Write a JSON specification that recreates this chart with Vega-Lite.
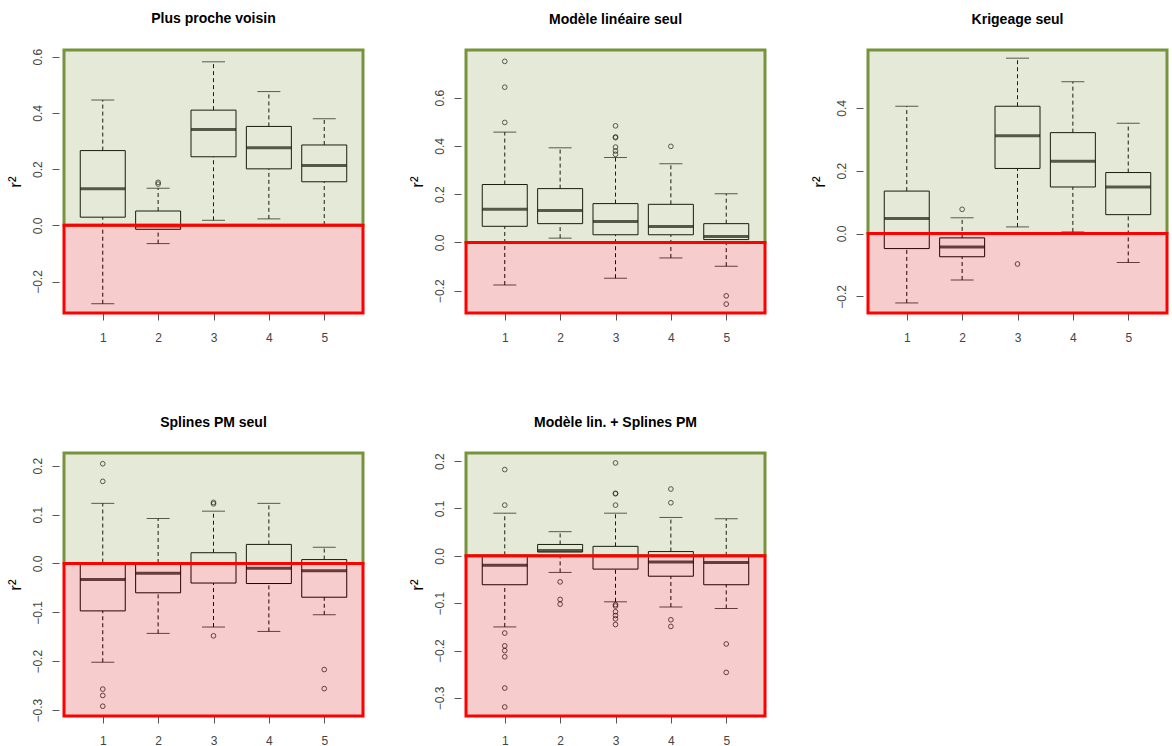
{
  "$schema": "https://vega.github.io/schema/vega-lite/v6.json",
  "background": "white",
  "padding": {"left": 6, "top": 12, "right": 0, "bottom": 0},
  "datasets": {
    "boxes": [
      {"panel": 1, "group": 1, "lo": -0.279, "q1": 0.029, "med": 0.130, "q3": 0.266, "hi": 0.446},
      {"panel": 1, "group": 2, "lo": -0.065, "q1": -0.014, "med": -0.002, "q3": 0.051, "hi": 0.132},
      {"panel": 1, "group": 3, "lo": 0.018, "q1": 0.244, "med": 0.341, "q3": 0.410, "hi": 0.582},
      {"panel": 1, "group": 4, "lo": 0.023, "q1": 0.201, "med": 0.276, "q3": 0.352, "hi": 0.476},
      {"panel": 1, "group": 5, "lo": 0.001, "q1": 0.155, "med": 0.213, "q3": 0.286, "hi": 0.379},
      {"panel": 2, "group": 1, "lo": -0.176, "q1": 0.067, "med": 0.138, "q3": 0.240, "hi": 0.457},
      {"panel": 2, "group": 2, "lo": 0.018, "q1": 0.078, "med": 0.132, "q3": 0.223, "hi": 0.392},
      {"panel": 2, "group": 3, "lo": -0.148, "q1": 0.032, "med": 0.087, "q3": 0.161, "hi": 0.352},
      {"panel": 2, "group": 4, "lo": -0.064, "q1": 0.032, "med": 0.066, "q3": 0.158, "hi": 0.326},
      {"panel": 2, "group": 5, "lo": -0.098, "q1": 0.012, "med": 0.025, "q3": 0.078, "hi": 0.202},
      {"panel": 3, "group": 1, "lo": -0.221, "q1": -0.048, "med": 0.048, "q3": 0.135, "hi": 0.405},
      {"panel": 3, "group": 2, "lo": -0.148, "q1": -0.074, "med": -0.043, "q3": -0.014, "hi": 0.050},
      {"panel": 3, "group": 3, "lo": 0.021, "q1": 0.207, "med": 0.311, "q3": 0.405, "hi": 0.558},
      {"panel": 3, "group": 4, "lo": 0.005, "q1": 0.148, "med": 0.230, "q3": 0.321, "hi": 0.483},
      {"panel": 3, "group": 5, "lo": -0.092, "q1": 0.060, "med": 0.148, "q3": 0.194, "hi": 0.351},
      {"panel": 4, "group": 1, "lo": -0.202, "q1": -0.097, "med": -0.033, "q3": 0.002, "hi": 0.123},
      {"panel": 4, "group": 2, "lo": -0.143, "q1": -0.060, "med": -0.020, "q3": 0.001, "hi": 0.092},
      {"panel": 4, "group": 3, "lo": -0.130, "q1": -0.040, "med": 0.000, "q3": 0.022, "hi": 0.107},
      {"panel": 4, "group": 4, "lo": -0.139, "q1": -0.041, "med": -0.010, "q3": 0.039, "hi": 0.123},
      {"panel": 4, "group": 5, "lo": -0.105, "q1": -0.069, "med": -0.015, "q3": 0.008, "hi": 0.033},
      {"panel": 5, "group": 1, "lo": -0.150, "q1": -0.061, "med": -0.020, "q3": 0.001, "hi": 0.090},
      {"panel": 5, "group": 2, "lo": -0.035, "q1": 0.008, "med": 0.011, "q3": 0.024, "hi": 0.051},
      {"panel": 5, "group": 3, "lo": -0.097, "q1": -0.028, "med": 0.000, "q3": 0.020, "hi": 0.090},
      {"panel": 5, "group": 4, "lo": -0.108, "q1": -0.043, "med": -0.013, "q3": 0.009, "hi": 0.081},
      {"panel": 5, "group": 5, "lo": -0.111, "q1": -0.061, "med": -0.014, "q3": 0.000, "hi": 0.078}
    ],
    "outliers": [
      {"panel": 1, "group": 2, "v": 0.153},
      {"panel": 1, "group": 2, "v": 0.147},
      {"panel": 2, "group": 1, "v": 0.750},
      {"panel": 2, "group": 1, "v": 0.643},
      {"panel": 2, "group": 1, "v": 0.497},
      {"panel": 2, "group": 3, "v": 0.483},
      {"panel": 2, "group": 3, "v": 0.437},
      {"panel": 2, "group": 3, "v": 0.434},
      {"panel": 2, "group": 3, "v": 0.395},
      {"panel": 2, "group": 3, "v": 0.379},
      {"panel": 2, "group": 3, "v": 0.365},
      {"panel": 2, "group": 4, "v": 0.398},
      {"panel": 2, "group": 5, "v": -0.221},
      {"panel": 2, "group": 5, "v": -0.255},
      {"panel": 3, "group": 2, "v": 0.077},
      {"panel": 3, "group": 3, "v": -0.097},
      {"panel": 4, "group": 1, "v": 0.204},
      {"panel": 4, "group": 1, "v": 0.168},
      {"panel": 4, "group": 1, "v": -0.257},
      {"panel": 4, "group": 1, "v": -0.270},
      {"panel": 4, "group": 1, "v": -0.292},
      {"panel": 4, "group": 3, "v": 0.125},
      {"panel": 4, "group": 3, "v": 0.122},
      {"panel": 4, "group": 3, "v": -0.148},
      {"panel": 4, "group": 5, "v": -0.217},
      {"panel": 4, "group": 5, "v": -0.256},
      {"panel": 5, "group": 1, "v": 0.182},
      {"panel": 5, "group": 1, "v": 0.107},
      {"panel": 5, "group": 1, "v": -0.163},
      {"panel": 5, "group": 1, "v": -0.190},
      {"panel": 5, "group": 1, "v": -0.200},
      {"panel": 5, "group": 1, "v": -0.213},
      {"panel": 5, "group": 1, "v": -0.279},
      {"panel": 5, "group": 1, "v": -0.319},
      {"panel": 5, "group": 2, "v": -0.055},
      {"panel": 5, "group": 2, "v": -0.092},
      {"panel": 5, "group": 2, "v": -0.102},
      {"panel": 5, "group": 3, "v": 0.196},
      {"panel": 5, "group": 3, "v": 0.132},
      {"panel": 5, "group": 3, "v": 0.131},
      {"panel": 5, "group": 3, "v": 0.107},
      {"panel": 5, "group": 3, "v": -0.103},
      {"panel": 5, "group": 3, "v": -0.106},
      {"panel": 5, "group": 3, "v": -0.118},
      {"panel": 5, "group": 3, "v": -0.126},
      {"panel": 5, "group": 3, "v": -0.133},
      {"panel": 5, "group": 3, "v": -0.145},
      {"panel": 5, "group": 4, "v": 0.141},
      {"panel": 5, "group": 4, "v": 0.112},
      {"panel": 5, "group": 4, "v": -0.135},
      {"panel": 5, "group": 4, "v": -0.149},
      {"panel": 5, "group": 5, "v": -0.186},
      {"panel": 5, "group": 5, "v": -0.246}
    ],
    "zones": [
      {"panel": 1, "zone": "pos", "lo": 0, "hi": 0.624},
      {"panel": 1, "zone": "neg", "lo": -0.312, "hi": 0},
      {"panel": 2, "zone": "pos", "lo": 0, "hi": 0.797},
      {"panel": 2, "zone": "neg", "lo": -0.292, "hi": 0},
      {"panel": 3, "zone": "pos", "lo": 0, "hi": 0.584},
      {"panel": 3, "zone": "neg", "lo": -0.253, "hi": 0},
      {"panel": 4, "zone": "pos", "lo": 0, "hi": 0.226},
      {"panel": 4, "zone": "neg", "lo": -0.312, "hi": 0},
      {"panel": 5, "zone": "pos", "lo": 0, "hi": 0.217},
      {"panel": 5, "zone": "neg", "lo": -0.338, "hi": 0}
    ]
  },
  "columns": 3,
  "spacing": {"row": 140, "column": 93},
  "bounds": "flush",
  "concat": [
    {
      "width": 309, "height": 263,
      "title": {"text": "Plus proche voisin"},
      "data": {"name": "boxes"},
      "transform": [{"filter": "datum.panel == 1"}],
      "layer": [
        {"mark": {"type": "rule", "strokeDash": [4, 3], "color": "#000", "strokeWidth": 1},
         "encoding": {
           "x": {"field": "group", "type": "quantitative", "title": null, "scale": {"domain": [0.3, 5.7], "nice": false, "zero": false}, "axis": {"values": [1, 2, 3, 4, 5], "format": "d"}},
           "y": {"field": "lo", "type": "quantitative", "title": "r²", "scale": {"domain": [-0.312, 0.624], "nice": false, "zero": false}, "axis": {"values": [-0.2, 0, 0.2, 0.4, 0.6], "format": ".1f"}},
           "y2": {"field": "q1"}}},
        {"mark": {"type": "rule", "strokeDash": [4, 3], "color": "#000", "strokeWidth": 1},
         "encoding": {
           "x": {"field": "group", "type": "quantitative", "title": null},
           "y": {"field": "q3", "type": "quantitative", "title": "r²"},
           "y2": {"field": "hi"}}},
        {"mark": {"type": "tick", "orient": "horizontal", "size": 23, "thickness": 1, "color": "#000"},
         "encoding": {"x": {"field": "group", "type": "quantitative", "title": null}, "y": {"field": "lo", "type": "quantitative", "title": "r²"}}},
        {"mark": {"type": "tick", "orient": "horizontal", "size": 23, "thickness": 1, "color": "#000"},
         "encoding": {"x": {"field": "group", "type": "quantitative", "title": null}, "y": {"field": "hi", "type": "quantitative", "title": "r²"}}},
        {"mark": {"type": "bar", "size": 45, "orient": "vertical", "fill": null, "fillOpacity": 0, "stroke": "#000", "strokeWidth": 1},
         "encoding": {"x": {"field": "group", "type": "quantitative", "title": null}, "y": {"field": "q1", "type": "quantitative", "title": "r²"}, "y2": {"field": "q3"}}},
        {"mark": {"type": "tick", "orient": "horizontal", "size": 45, "thickness": 3, "color": "#000"},
         "encoding": {"x": {"field": "group", "type": "quantitative", "title": null}, "y": {"field": "med", "type": "quantitative", "title": "r²"}}},
        {"data": {"name": "outliers"}, "transform": [{"filter": "datum.panel == 1"}],
         "mark": {"type": "point", "shape": "circle", "filled": false, "size": 22, "stroke": "#000", "strokeWidth": 1},
         "encoding": {"x": {"field": "group", "type": "quantitative", "title": null}, "y": {"field": "v", "type": "quantitative", "title": "r²"}}},
        {"data": {"name": "zones"}, "transform": [{"filter": "datum.panel == 1 && datum.zone == 'pos'"}],
         "mark": {"type": "rect", "fill": "#77933C", "fillOpacity": 0.2, "stroke": "#77933C", "strokeWidth": 3},
         "encoding": {"x": {"datum": 0.3, "type": "quantitative", "title": null}, "x2": {"datum": 5.7}, "y": {"field": "lo", "type": "quantitative", "title": "r²"}, "y2": {"field": "hi"}}},
        {"data": {"name": "zones"}, "transform": [{"filter": "datum.panel == 1 && datum.zone == 'neg'"}],
         "mark": {"type": "rect", "fill": "#D40000", "fillOpacity": 0.2, "stroke": "#FF0000", "strokeWidth": 3},
         "encoding": {"x": {"datum": 0.3, "type": "quantitative", "title": null}, "x2": {"datum": 5.7}, "y": {"field": "lo", "type": "quantitative", "title": "r²"}, "y2": {"field": "hi"}}}
      ]
    },
    {
      "width": 309, "height": 263,
      "title": {"text": "Modèle linéaire seul"},
      "data": {"name": "boxes"},
      "transform": [{"filter": "datum.panel == 2"}],
      "layer": [
        {"mark": {"type": "rule", "strokeDash": [4, 3], "color": "#000", "strokeWidth": 1},
         "encoding": {
           "x": {"field": "group", "type": "quantitative", "title": null, "scale": {"domain": [0.3, 5.7], "nice": false, "zero": false}, "axis": {"values": [1, 2, 3, 4, 5], "format": "d"}},
           "y": {"field": "lo", "type": "quantitative", "title": "r²", "scale": {"domain": [-0.292, 0.797], "nice": false, "zero": false}, "axis": {"values": [-0.2, 0, 0.2, 0.4, 0.6], "format": ".1f"}},
           "y2": {"field": "q1"}}},
        {"mark": {"type": "rule", "strokeDash": [4, 3], "color": "#000", "strokeWidth": 1},
         "encoding": {
           "x": {"field": "group", "type": "quantitative", "title": null},
           "y": {"field": "q3", "type": "quantitative", "title": "r²"},
           "y2": {"field": "hi"}}},
        {"mark": {"type": "tick", "orient": "horizontal", "size": 23, "thickness": 1, "color": "#000"},
         "encoding": {"x": {"field": "group", "type": "quantitative", "title": null}, "y": {"field": "lo", "type": "quantitative", "title": "r²"}}},
        {"mark": {"type": "tick", "orient": "horizontal", "size": 23, "thickness": 1, "color": "#000"},
         "encoding": {"x": {"field": "group", "type": "quantitative", "title": null}, "y": {"field": "hi", "type": "quantitative", "title": "r²"}}},
        {"mark": {"type": "bar", "size": 45, "orient": "vertical", "fill": null, "fillOpacity": 0, "stroke": "#000", "strokeWidth": 1},
         "encoding": {"x": {"field": "group", "type": "quantitative", "title": null}, "y": {"field": "q1", "type": "quantitative", "title": "r²"}, "y2": {"field": "q3"}}},
        {"mark": {"type": "tick", "orient": "horizontal", "size": 45, "thickness": 3, "color": "#000"},
         "encoding": {"x": {"field": "group", "type": "quantitative", "title": null}, "y": {"field": "med", "type": "quantitative", "title": "r²"}}},
        {"data": {"name": "outliers"}, "transform": [{"filter": "datum.panel == 2"}],
         "mark": {"type": "point", "shape": "circle", "filled": false, "size": 22, "stroke": "#000", "strokeWidth": 1},
         "encoding": {"x": {"field": "group", "type": "quantitative", "title": null}, "y": {"field": "v", "type": "quantitative", "title": "r²"}}},
        {"data": {"name": "zones"}, "transform": [{"filter": "datum.panel == 2 && datum.zone == 'pos'"}],
         "mark": {"type": "rect", "fill": "#77933C", "fillOpacity": 0.2, "stroke": "#77933C", "strokeWidth": 3},
         "encoding": {"x": {"datum": 0.3, "type": "quantitative", "title": null}, "x2": {"datum": 5.7}, "y": {"field": "lo", "type": "quantitative", "title": "r²"}, "y2": {"field": "hi"}}},
        {"data": {"name": "zones"}, "transform": [{"filter": "datum.panel == 2 && datum.zone == 'neg'"}],
         "mark": {"type": "rect", "fill": "#D40000", "fillOpacity": 0.2, "stroke": "#FF0000", "strokeWidth": 3},
         "encoding": {"x": {"datum": 0.3, "type": "quantitative", "title": null}, "x2": {"datum": 5.7}, "y": {"field": "lo", "type": "quantitative", "title": "r²"}, "y2": {"field": "hi"}}}
      ]
    },
    {
      "width": 309, "height": 263,
      "title": {"text": "Krigeage seul"},
      "data": {"name": "boxes"},
      "transform": [{"filter": "datum.panel == 3"}],
      "layer": [
        {"mark": {"type": "rule", "strokeDash": [4, 3], "color": "#000", "strokeWidth": 1},
         "encoding": {
           "x": {"field": "group", "type": "quantitative", "title": null, "scale": {"domain": [0.3, 5.7], "nice": false, "zero": false}, "axis": {"values": [1, 2, 3, 4, 5], "format": "d"}},
           "y": {"field": "lo", "type": "quantitative", "title": "r²", "scale": {"domain": [-0.253, 0.584], "nice": false, "zero": false}, "axis": {"values": [-0.2, 0, 0.2, 0.4], "format": ".1f"}},
           "y2": {"field": "q1"}}},
        {"mark": {"type": "rule", "strokeDash": [4, 3], "color": "#000", "strokeWidth": 1},
         "encoding": {
           "x": {"field": "group", "type": "quantitative", "title": null},
           "y": {"field": "q3", "type": "quantitative", "title": "r²"},
           "y2": {"field": "hi"}}},
        {"mark": {"type": "tick", "orient": "horizontal", "size": 23, "thickness": 1, "color": "#000"},
         "encoding": {"x": {"field": "group", "type": "quantitative", "title": null}, "y": {"field": "lo", "type": "quantitative", "title": "r²"}}},
        {"mark": {"type": "tick", "orient": "horizontal", "size": 23, "thickness": 1, "color": "#000"},
         "encoding": {"x": {"field": "group", "type": "quantitative", "title": null}, "y": {"field": "hi", "type": "quantitative", "title": "r²"}}},
        {"mark": {"type": "bar", "size": 45, "orient": "vertical", "fill": null, "fillOpacity": 0, "stroke": "#000", "strokeWidth": 1},
         "encoding": {"x": {"field": "group", "type": "quantitative", "title": null}, "y": {"field": "q1", "type": "quantitative", "title": "r²"}, "y2": {"field": "q3"}}},
        {"mark": {"type": "tick", "orient": "horizontal", "size": 45, "thickness": 3, "color": "#000"},
         "encoding": {"x": {"field": "group", "type": "quantitative", "title": null}, "y": {"field": "med", "type": "quantitative", "title": "r²"}}},
        {"data": {"name": "outliers"}, "transform": [{"filter": "datum.panel == 3"}],
         "mark": {"type": "point", "shape": "circle", "filled": false, "size": 22, "stroke": "#000", "strokeWidth": 1},
         "encoding": {"x": {"field": "group", "type": "quantitative", "title": null}, "y": {"field": "v", "type": "quantitative", "title": "r²"}}},
        {"data": {"name": "zones"}, "transform": [{"filter": "datum.panel == 3 && datum.zone == 'pos'"}],
         "mark": {"type": "rect", "fill": "#77933C", "fillOpacity": 0.2, "stroke": "#77933C", "strokeWidth": 3},
         "encoding": {"x": {"datum": 0.3, "type": "quantitative", "title": null}, "x2": {"datum": 5.7}, "y": {"field": "lo", "type": "quantitative", "title": "r²"}, "y2": {"field": "hi"}}},
        {"data": {"name": "zones"}, "transform": [{"filter": "datum.panel == 3 && datum.zone == 'neg'"}],
         "mark": {"type": "rect", "fill": "#D40000", "fillOpacity": 0.2, "stroke": "#FF0000", "strokeWidth": 3},
         "encoding": {"x": {"datum": 0.3, "type": "quantitative", "title": null}, "x2": {"datum": 5.7}, "y": {"field": "lo", "type": "quantitative", "title": "r²"}, "y2": {"field": "hi"}}}
      ]
    },
    {
      "width": 309, "height": 263,
      "title": {"text": "Splines PM seul"},
      "data": {"name": "boxes"},
      "transform": [{"filter": "datum.panel == 4"}],
      "layer": [
        {"mark": {"type": "rule", "strokeDash": [4, 3], "color": "#000", "strokeWidth": 1},
         "encoding": {
           "x": {"field": "group", "type": "quantitative", "title": null, "scale": {"domain": [0.3, 5.7], "nice": false, "zero": false}, "axis": {"values": [1, 2, 3, 4, 5], "format": "d"}},
           "y": {"field": "lo", "type": "quantitative", "title": "r²", "scale": {"domain": [-0.312, 0.226], "nice": false, "zero": false}, "axis": {"values": [-0.3, -0.2, -0.1, 0, 0.1, 0.2], "format": ".1f"}},
           "y2": {"field": "q1"}}},
        {"mark": {"type": "rule", "strokeDash": [4, 3], "color": "#000", "strokeWidth": 1},
         "encoding": {
           "x": {"field": "group", "type": "quantitative", "title": null},
           "y": {"field": "q3", "type": "quantitative", "title": "r²"},
           "y2": {"field": "hi"}}},
        {"mark": {"type": "tick", "orient": "horizontal", "size": 23, "thickness": 1, "color": "#000"},
         "encoding": {"x": {"field": "group", "type": "quantitative", "title": null}, "y": {"field": "lo", "type": "quantitative", "title": "r²"}}},
        {"mark": {"type": "tick", "orient": "horizontal", "size": 23, "thickness": 1, "color": "#000"},
         "encoding": {"x": {"field": "group", "type": "quantitative", "title": null}, "y": {"field": "hi", "type": "quantitative", "title": "r²"}}},
        {"mark": {"type": "bar", "size": 45, "orient": "vertical", "fill": null, "fillOpacity": 0, "stroke": "#000", "strokeWidth": 1},
         "encoding": {"x": {"field": "group", "type": "quantitative", "title": null}, "y": {"field": "q1", "type": "quantitative", "title": "r²"}, "y2": {"field": "q3"}}},
        {"mark": {"type": "tick", "orient": "horizontal", "size": 45, "thickness": 3, "color": "#000"},
         "encoding": {"x": {"field": "group", "type": "quantitative", "title": null}, "y": {"field": "med", "type": "quantitative", "title": "r²"}}},
        {"data": {"name": "outliers"}, "transform": [{"filter": "datum.panel == 4"}],
         "mark": {"type": "point", "shape": "circle", "filled": false, "size": 22, "stroke": "#000", "strokeWidth": 1},
         "encoding": {"x": {"field": "group", "type": "quantitative", "title": null}, "y": {"field": "v", "type": "quantitative", "title": "r²"}}},
        {"data": {"name": "zones"}, "transform": [{"filter": "datum.panel == 4 && datum.zone == 'pos'"}],
         "mark": {"type": "rect", "fill": "#77933C", "fillOpacity": 0.2, "stroke": "#77933C", "strokeWidth": 3},
         "encoding": {"x": {"datum": 0.3, "type": "quantitative", "title": null}, "x2": {"datum": 5.7}, "y": {"field": "lo", "type": "quantitative", "title": "r²"}, "y2": {"field": "hi"}}},
        {"data": {"name": "zones"}, "transform": [{"filter": "datum.panel == 4 && datum.zone == 'neg'"}],
         "mark": {"type": "rect", "fill": "#D40000", "fillOpacity": 0.2, "stroke": "#FF0000", "strokeWidth": 3},
         "encoding": {"x": {"datum": 0.3, "type": "quantitative", "title": null}, "x2": {"datum": 5.7}, "y": {"field": "lo", "type": "quantitative", "title": "r²"}, "y2": {"field": "hi"}}}
      ]
    },
    {
      "width": 309, "height": 263,
      "title": {"text": "Modèle lin. + Splines PM"},
      "data": {"name": "boxes"},
      "transform": [{"filter": "datum.panel == 5"}],
      "layer": [
        {"mark": {"type": "rule", "strokeDash": [4, 3], "color": "#000", "strokeWidth": 1},
         "encoding": {
           "x": {"field": "group", "type": "quantitative", "title": null, "scale": {"domain": [0.3, 5.7], "nice": false, "zero": false}, "axis": {"values": [1, 2, 3, 4, 5], "format": "d"}},
           "y": {"field": "lo", "type": "quantitative", "title": "r²", "scale": {"domain": [-0.338, 0.217], "nice": false, "zero": false}, "axis": {"values": [-0.3, -0.2, -0.1, 0, 0.1, 0.2], "format": ".1f"}},
           "y2": {"field": "q1"}}},
        {"mark": {"type": "rule", "strokeDash": [4, 3], "color": "#000", "strokeWidth": 1},
         "encoding": {
           "x": {"field": "group", "type": "quantitative", "title": null},
           "y": {"field": "q3", "type": "quantitative", "title": "r²"},
           "y2": {"field": "hi"}}},
        {"mark": {"type": "tick", "orient": "horizontal", "size": 23, "thickness": 1, "color": "#000"},
         "encoding": {"x": {"field": "group", "type": "quantitative", "title": null}, "y": {"field": "lo", "type": "quantitative", "title": "r²"}}},
        {"mark": {"type": "tick", "orient": "horizontal", "size": 23, "thickness": 1, "color": "#000"},
         "encoding": {"x": {"field": "group", "type": "quantitative", "title": null}, "y": {"field": "hi", "type": "quantitative", "title": "r²"}}},
        {"mark": {"type": "bar", "size": 45, "orient": "vertical", "fill": null, "fillOpacity": 0, "stroke": "#000", "strokeWidth": 1},
         "encoding": {"x": {"field": "group", "type": "quantitative", "title": null}, "y": {"field": "q1", "type": "quantitative", "title": "r²"}, "y2": {"field": "q3"}}},
        {"mark": {"type": "tick", "orient": "horizontal", "size": 45, "thickness": 3, "color": "#000"},
         "encoding": {"x": {"field": "group", "type": "quantitative", "title": null}, "y": {"field": "med", "type": "quantitative", "title": "r²"}}},
        {"data": {"name": "outliers"}, "transform": [{"filter": "datum.panel == 5"}],
         "mark": {"type": "point", "shape": "circle", "filled": false, "size": 22, "stroke": "#000", "strokeWidth": 1},
         "encoding": {"x": {"field": "group", "type": "quantitative", "title": null}, "y": {"field": "v", "type": "quantitative", "title": "r²"}}},
        {"data": {"name": "zones"}, "transform": [{"filter": "datum.panel == 5 && datum.zone == 'pos'"}],
         "mark": {"type": "rect", "fill": "#77933C", "fillOpacity": 0.2, "stroke": "#77933C", "strokeWidth": 3},
         "encoding": {"x": {"datum": 0.3, "type": "quantitative", "title": null}, "x2": {"datum": 5.7}, "y": {"field": "lo", "type": "quantitative", "title": "r²"}, "y2": {"field": "hi"}}},
        {"data": {"name": "zones"}, "transform": [{"filter": "datum.panel == 5 && datum.zone == 'neg'"}],
         "mark": {"type": "rect", "fill": "#D40000", "fillOpacity": 0.2, "stroke": "#FF0000", "strokeWidth": 3},
         "encoding": {"x": {"datum": 0.3, "type": "quantitative", "title": null}, "x2": {"datum": 5.7}, "y": {"field": "lo", "type": "quantitative", "title": "r²"}, "y2": {"field": "hi"}}}
      ]
    }
  ],
  "config": {
    "view": {"stroke": null},
    "font": "Liberation Sans",
    "title": {"font": "Liberation Sans", "fontSize": 14, "fontWeight": "bold", "color": "#000", "offset": 22, "anchor": "middle"},
    "axis": {"domain": false, "grid": false, "ticks": true, "tickSize": 7, "tickColor": "#555", "labelColor": "#444", "labelFont": "Liberation Sans", "labelFontSize": 12, "titleFont": "Liberation Sans", "titleFontSize": 17, "titleFontWeight": "normal", "titleColor": "#000", "labelOverlap": false, "labelBound": false, "labelFlush": false},
    "axisX": {"labelPadding": 12, "labelAngle": 0},
    "axisY": {"labelAngle": -90, "labelAlign": "center", "labelBaseline": "bottom", "labelPadding": 8, "titleAngle": 270, "titleX": -44, "titleY": 131.5, "titleAlign": "center", "titleBaseline": "middle"}
  }
}
